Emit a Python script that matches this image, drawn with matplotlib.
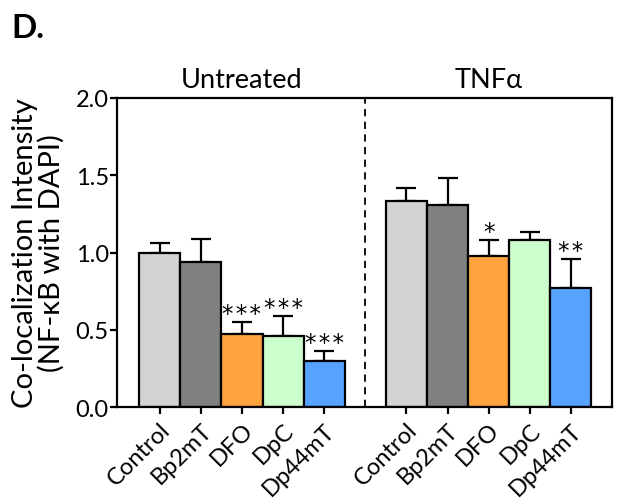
import numpy as np
import matplotlib.pyplot as plt

plt.rcParams['font.family'] = ['Lato', 'DejaVu Sans']

# data
treatments = ['Control', 'Bp2mT', 'DFO', 'DpC', 'Dp44mT']
colors = ['#d3d3d3', '#808080', '#ffa33f', '#ccffcc', '#55a2ff']

untreated_mean = [1.00, 0.94, 0.47, 0.46, 0.30]
untreated_err = [0.06, 0.15, 0.08, 0.13, 0.06]
untreated_sig = ['', '', '***', '***', '***']

tnf_mean = [1.33, 1.31, 0.98, 1.08, 0.77]
tnf_err = [0.09, 0.17, 0.10, 0.05, 0.19]
tnf_sig = ['', '', '*', '', '**']

group_names = ['Untreated', 'TNF\u03b1']

######################################################################

fig = plt.figure(figsize=(6.2, 5.02), dpi=100)
ax = fig.add_axes([0.1887, 0.187, 0.7983, 0.616])

x_left = np.arange(len(treatments))
x_right = x_left + len(treatments) + 1

for xs, means, errs, sigs in [(x_left, untreated_mean, untreated_err, untreated_sig),
                              (x_right, tnf_mean, tnf_err, tnf_sig)]:
    ax.bar(xs, means, width=1.0, color=colors, edgecolor='black', linewidth=1.6, zorder=2)
    ax.errorbar(xs, means, yerr=[np.zeros(len(means)), errs], fmt='none',
                ecolor='black', elinewidth=1.6, capsize=7, capthick=1.6, zorder=1)
    for xi, m, e, s in zip(xs, means, errs, sigs):
        if s:
            # hair spaces between the stars
            ax.annotate('\u200a'.join(s), (xi, m + e), xytext=(0, 1.5), textcoords='offset points',
                        ha='center', va='baseline', fontsize=16.5, family='DejaVu Sans')

# separator between the two groups
ax.axvline(len(treatments), color='black', linestyle=(0, (4, 3)), linewidth=1.3, zorder=0)

ax.set_xlim(-1.04, x_right[-1] + 1.0)
ax.set_ylim(0, 2.0)
ax.set_yticks([0.0, 0.5, 1.0, 1.5, 2.0])
ax.set_yticklabels(['0.0', '0.5', '1.0', '1.5', '2.0'], fontsize=17)
ax.set_xticks(np.concatenate([x_left, x_right]))
ax.set_xticklabels(treatments + treatments, rotation=45, ha='right',
                   rotation_mode='anchor', fontsize=17)

for sp in ax.spines.values():
    sp.set_linewidth(1.6)
ax.tick_params(axis='both', direction='out', length=5, width=1.6)
ax.tick_params(axis='y', pad=1)

ax.set_ylabel('Co-localization Intensity\n(NF-\u03baB with DAPI)', fontsize=21,
              linespacing=1.0, labelpad=8)

# group headings above the box
for xs, name in [(x_left, group_names[0]), (x_right, group_names[1])]:
    ax.annotate(name, (np.mean(xs), 2.0), xytext=(0, 8), textcoords='offset points',
                ha='center', va='baseline', fontsize=19.5)

fig.text(0.019, 0.924, 'D.', fontsize=24, fontweight='bold', ha='left', va='baseline')

fig.savefig('out.png', dpi=100)
